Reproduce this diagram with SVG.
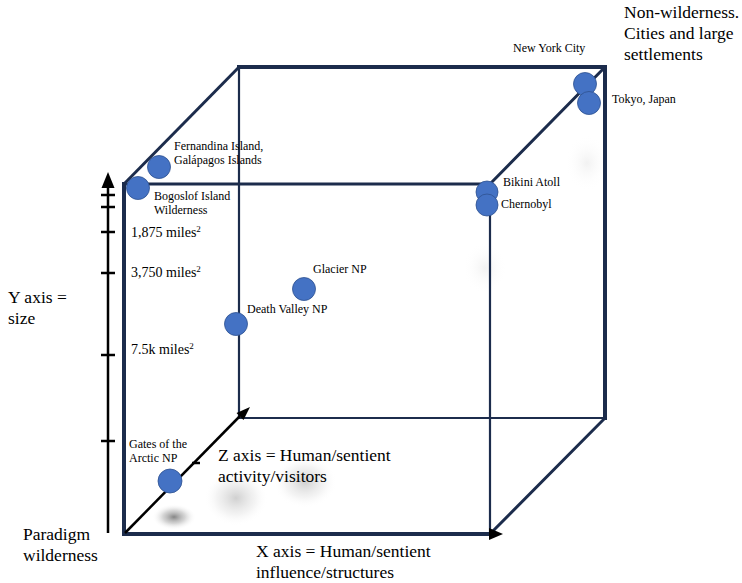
<svg xmlns="http://www.w3.org/2000/svg" width="742" height="583" viewBox="0 0 742 583">
<style>
.edge{stroke:#1c2c4c;fill:none;stroke-linecap:square}
.thick{stroke-width:4}
.mid{stroke-width:3}
.thin{stroke-width:2.2}
.ax{stroke:#000;stroke-width:2.5;fill:none}
.tick{stroke:#000;stroke-width:2.5}
.pt{fill:#4472c4;stroke:#2f528f;stroke-width:0.8}
text{font-family:"Liberation Serif","Times New Roman","DejaVu Serif",serif;fill:#000}
.s{font-size:12px}
.m{font-size:14px}
.l{font-size:17.5px}
</style>
<defs>
<radialGradient id="blobDark"><stop offset="0" stop-color="#777" stop-opacity="0.9"/><stop offset="0.5" stop-color="#aaa" stop-opacity="0.5"/><stop offset="1" stop-color="#fff" stop-opacity="0"/></radialGradient>
<radialGradient id="blobLight"><stop offset="0" stop-color="#c4c4c4" stop-opacity="0.8"/><stop offset="0.6" stop-color="#e8e8e8" stop-opacity="0.5"/><stop offset="1" stop-color="#fff" stop-opacity="0"/></radialGradient>
<radialGradient id="blobFaint"><stop offset="0" stop-color="#ececec" stop-opacity="0.7"/><stop offset="1" stop-color="#fff" stop-opacity="0"/></radialGradient>
</defs>
<rect width="742" height="583" fill="#fff"/>
<g id="artifacts">
<ellipse cx="174" cy="517" rx="22" ry="13" fill="url(#blobDark)"/>
<ellipse cx="236" cy="498" rx="32" ry="28" fill="url(#blobLight)"/>
<ellipse cx="305" cy="482" rx="32" ry="26" fill="url(#blobLight)"/>
<ellipse cx="485" cy="268" rx="22" ry="26" fill="url(#blobFaint)"/>
<ellipse cx="587" cy="163" rx="22" ry="28" fill="url(#blobFaint)"/>
</g>
<g id="connectors">
<line class="edge thick" x1="124" y1="184" x2="124" y2="534"/>
<line class="edge thick" x1="124" y1="534" x2="490" y2="534"/>
<line class="edge thick" x1="239" y1="67" x2="605" y2="67"/>
<line class="edge thick" x1="605" y1="67" x2="605" y2="418"/>
<line class="edge mid" x1="124" y1="184" x2="239" y2="67"/>
<line class="edge mid" x1="490" y1="184" x2="605" y2="67"/>
<line class="edge mid" x1="605" y1="418" x2="492" y2="532"/>
<line class="edge mid" x1="124" y1="184" x2="490" y2="184"/>
<line class="edge thin" x1="490" y1="184" x2="490" y2="534"/>
<line class="edge thin" x1="239" y1="67" x2="239" y2="418"/>
<line class="edge thin" x1="239" y1="418" x2="605" y2="418"/>
<polygon points="489,528 503,534 489,540" fill="#000"/>
<line class="ax" x1="108" y1="186" x2="108" y2="533"/>
<polygon points="108,172 101.5,188 114.5,188" fill="#000"/>
<line class="tick" x1="101" y1="195" x2="115" y2="195"/>
<line class="tick" x1="101" y1="207" x2="115" y2="207"/>
<line class="tick" x1="101" y1="232" x2="115" y2="232"/>
<line class="tick" x1="101" y1="273" x2="115" y2="273"/>
<line class="tick" x1="101" y1="355" x2="115" y2="355"/>
<line class="tick" x1="101" y1="441" x2="115" y2="441"/>
<line class="ax" x1="125" y1="533" x2="240" y2="416"/>
<polygon points="250,407 236.5,413 243.5,420" fill="#000"/>
<line class="tick" x1="192" y1="463" x2="200" y2="463"/>
</g>
<g id="fernandina"><circle class="pt" cx="159" cy="167" r="11.5"/><text class="s" x="174" y="150">Fernandina Island,</text><text class="s" x="174" y="164">Galápagos Islands</text></g>
<g id="bogoslof"><circle class="pt" cx="138" cy="188" r="11.5"/><text class="s" x="154" y="200">Bogoslof Island</text><text class="s" x="154" y="214">Wilderness</text></g>
<g id="size-labels"><text class="m" x="131" y="237">1,875 miles<tspan font-size="9" dy="-5">2</tspan></text><text class="m" x="131" y="277">3,750 miles<tspan font-size="9" dy="-5">2</tspan></text><text class="m" x="131" y="354">7.5k miles<tspan font-size="9" dy="-5">2</tspan></text></g>
<g id="glacier"><circle class="pt" cx="304" cy="289" r="11.5"/><text class="s" x="313" y="273">Glacier NP</text></g>
<g id="deathvalley"><circle class="pt" cx="236" cy="324" r="11.5"/><text class="s" x="247" y="313">Death Valley NP</text></g>
<g id="gates"><circle class="pt" cx="170" cy="481" r="12"/><text class="s" x="129" y="448">Gates of the</text><text class="s" x="129" y="462">Arctic NP</text></g>
<g id="nyc"><circle class="pt" cx="585" cy="84" r="11.5"/><text class="s" x="513" y="52">New York City</text></g>
<g id="tokyo"><circle class="pt" cx="589" cy="103" r="11.5"/><text class="s" x="612" y="103">Tokyo, Japan</text></g>
<g id="bikini"><circle class="pt" cx="487" cy="192" r="11"/><text class="s" x="503" y="186">Bikini Atoll</text></g>
<g id="chernobyl"><circle class="pt" cx="487" cy="205" r="11"/><text class="s" x="501" y="208">Chernobyl</text></g>
<g id="labels">
<text class="l" x="624" y="18">Non-wilderness.</text>
<text class="l" x="624" y="39">Cities and large</text>
<text class="l" x="624" y="60">settlements</text>
<text class="l" x="8" y="303">Y axis =</text>
<text class="l" x="8" y="324">size</text>
<text class="l" x="23" y="540">Paradigm</text>
<text class="l" x="23" y="561">wilderness</text>
<text class="l" x="218" y="461">Z axis = Human/sentient</text>
<text class="l" x="218" y="482">activity/visitors</text>
<text class="l" x="256" y="557">X axis = Human/sentient</text>
<text class="l" x="256" y="578">influence/structures</text>
</g>
</svg>
